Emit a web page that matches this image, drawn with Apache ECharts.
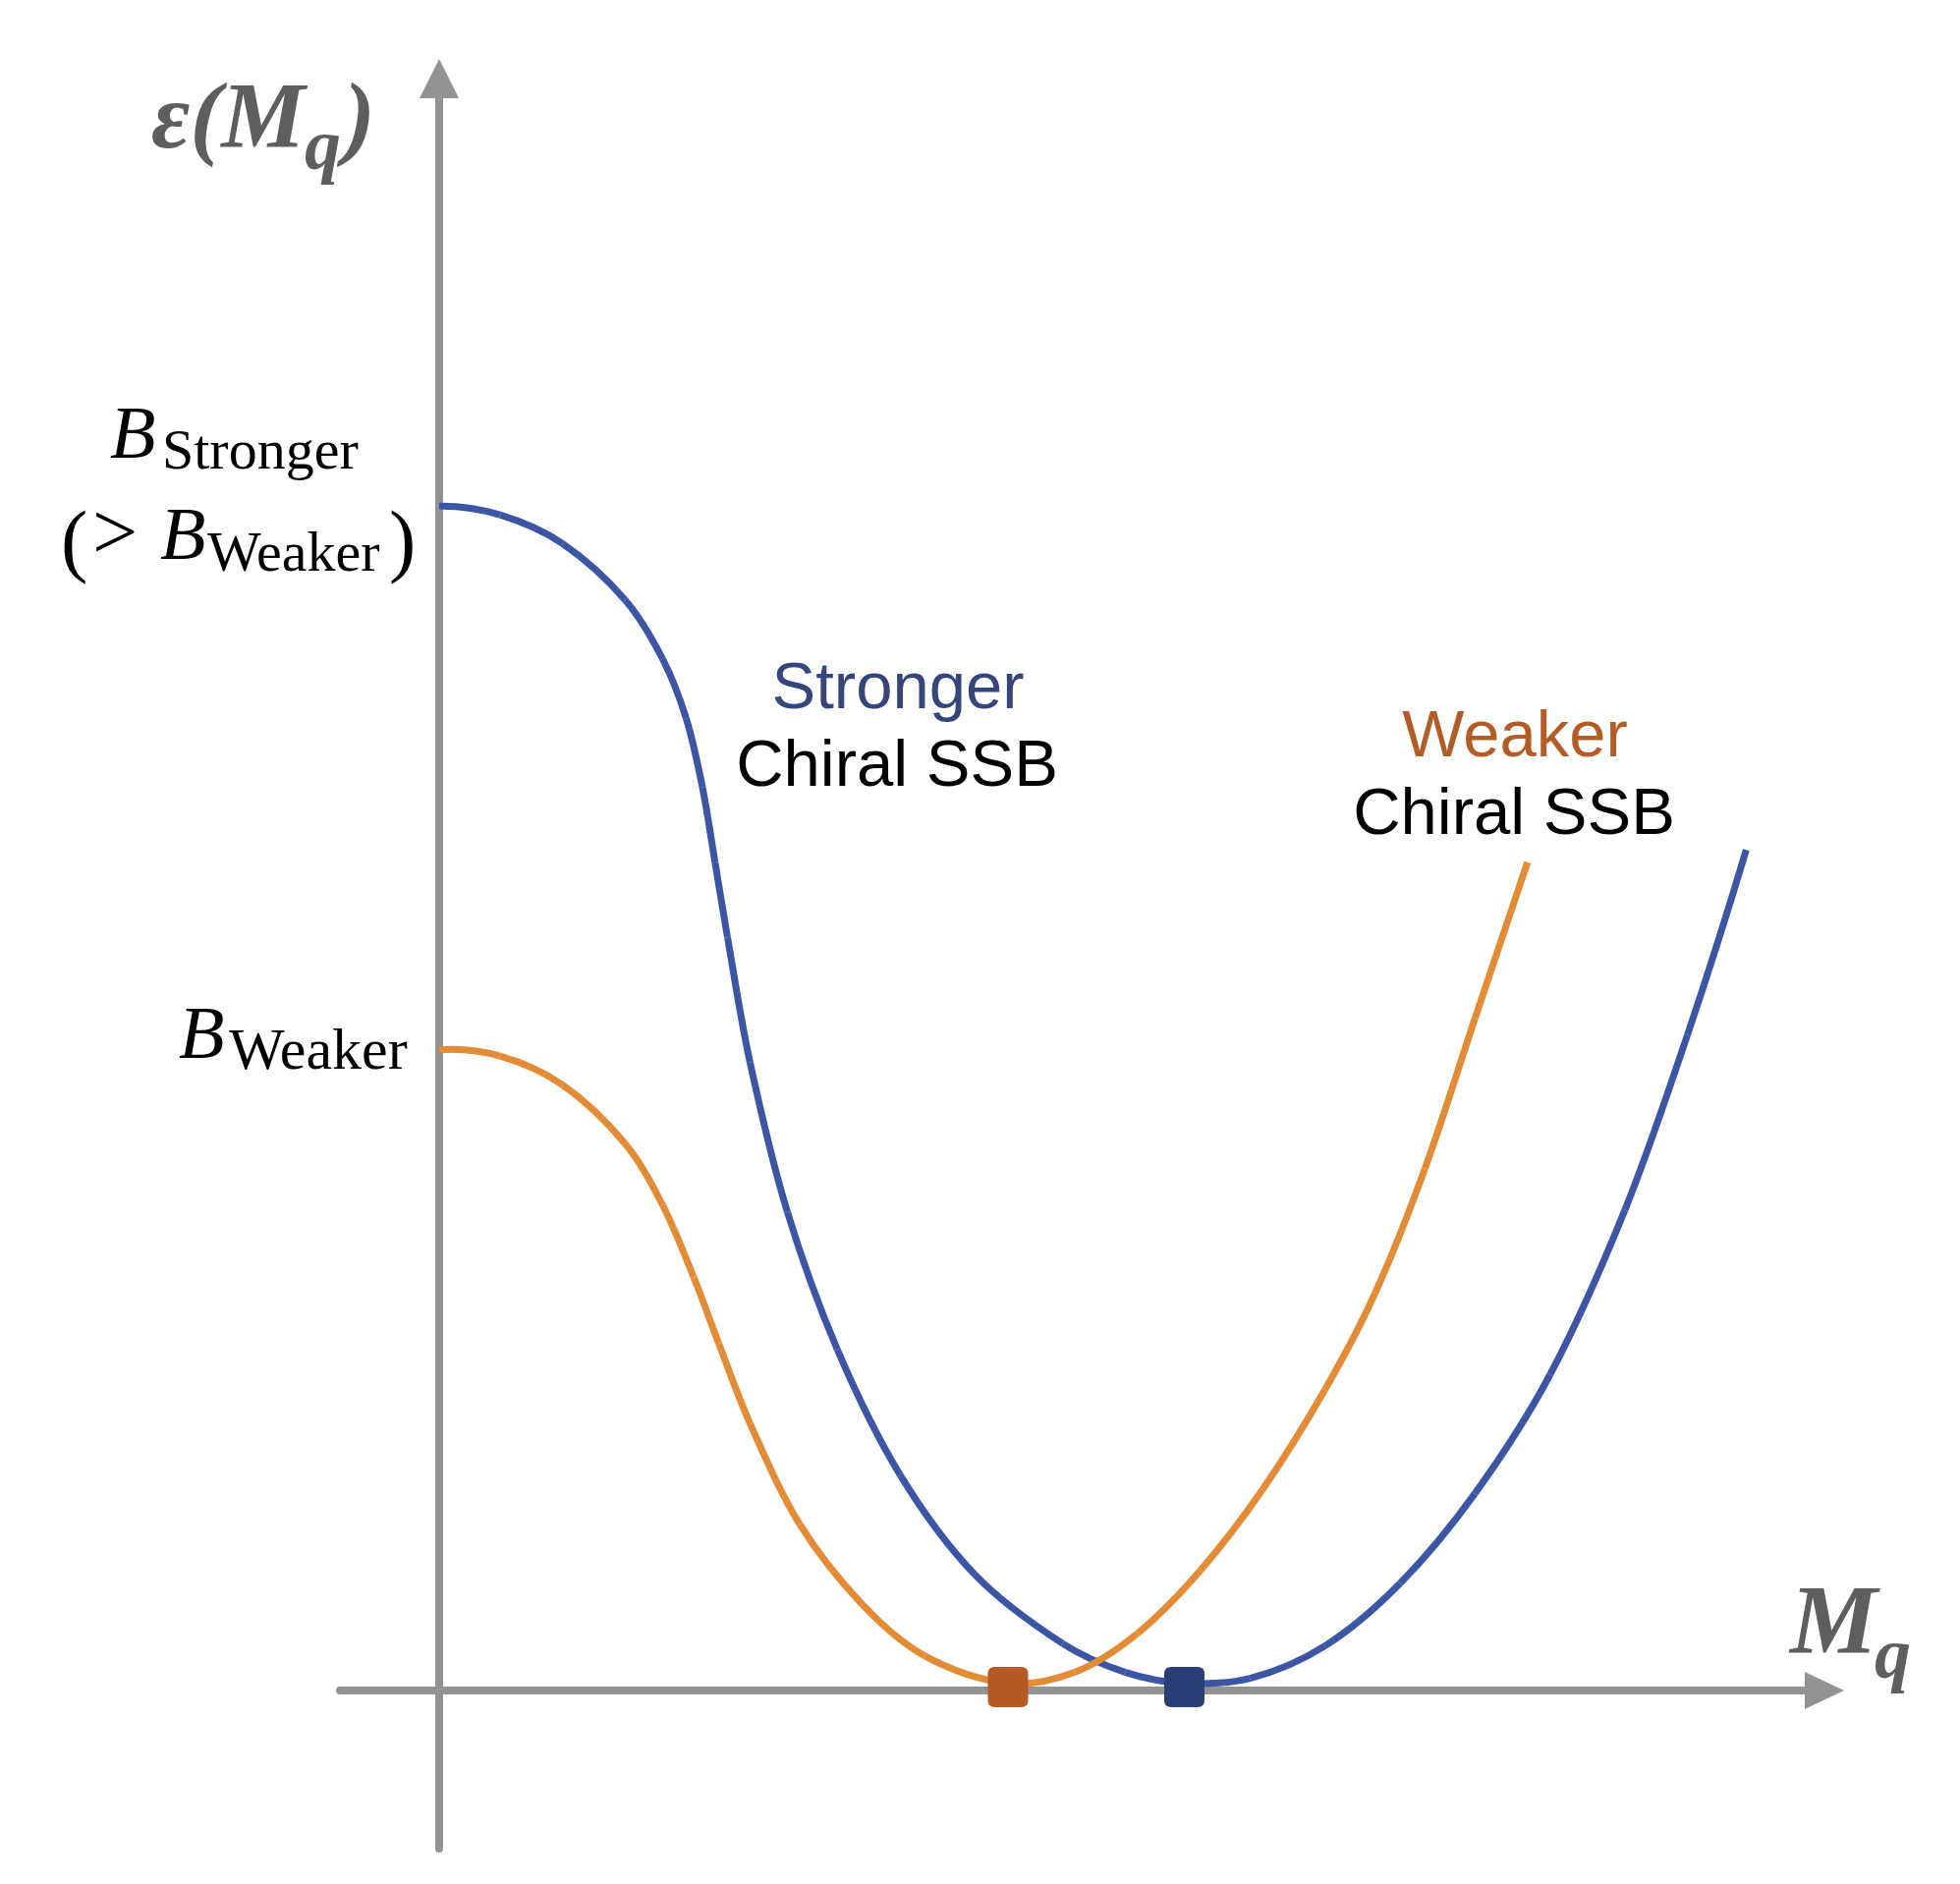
<!DOCTYPE html>
<html><head><meta charset="utf-8">
<script src="https://cdn.jsdelivr.net/npm/echarts/dist/echarts.min.js"></script>
<style>html,body{margin:0;padding:0;background:#fff}#c{width:1995px;height:1918px}</style>
</head><body><div id="c"></div>
<script>
// Energy curves ε(M_q) vs quark mass M_q (arbitrary units, origin at axes crossing)
const strongerX = [0, 0.619, 1.255, 1.892, 2.273, 2.515, 2.680, 2.808, 2.935, 3.164, 3.545, 4.054, 4.691, 5.454, 6.345, 6.981, 7.579, 8.253, 9.016, 9.780, 10.543, 11.307, 12.070, 12.706, 13.304];
const strongerY = [12.057, 11.968, 11.676, 11.103, 10.505, 9.894, 9.195, 8.431, 7.668, 6.395, 4.869, 3.469, 2.197, 1.179, 0.479, 0.187, 0.075, 0.123, 0.454, 1.090, 2.006, 3.215, 4.894, 6.675, 8.558];
const weakerX = [0, 0.619, 1.255, 1.892, 2.273, 2.591, 2.846, 3.164, 3.673, 4.309, 4.945, 5.785, 6.472, 7.108, 7.744, 8.380, 9.016, 9.525, 10.034, 10.543, 11.078];
const weakerY = [6.523, 6.459, 6.166, 5.568, 4.945, 4.207, 3.533, 2.719, 1.688, 0.874, 0.352, 0.075, 0.187, 0.581, 1.217, 2.044, 3.062, 4.042, 5.314, 6.841, 8.431];
const minimaWeaker = [5.79, 0.035];
const minimaStronger = [7.585, 0.035];
const xRange = [-1.01, 14.10];
const yRange = [-1.61, 16.41];

const zip = (xs, ys) => xs.map((x, i) => [x, ys[i]]);

const AXIS = '#939393';
const BLUE = '#3c55a5', ORANGE = '#e38c35';
const BLUE_DARK = '#2b3f77', ORANGE_DARK = '#b65a25';
const SERIF = "'Liberation Serif', 'Times New Roman', serif";
const SANS = "'Liberation Sans', Arial, sans-serif";

// Smooth curve drawn segment by segment (chord-length Catmull-Rom as cubic Bezier),
// every point placed through the cartesian axes with api.coord.
function curveSeries(name, xs, ys, color) {
  const n = xs.length;
  return {
    type: 'custom', name: name, coordinateSystem: 'cartesian2d', z: 3, silent: true,
    data: zip(xs, ys), encode: {x: 0, y: 1},
    renderItem: function (params, api) {
      const i = params.dataIndex;
      if (i >= n - 1) return null;
      const P = k => { k = Math.max(0, Math.min(n - 1, k)); return api.coord([xs[k], ys[k]]); };
      const dist = (a, b) => Math.hypot(b[0] - a[0], b[1] - a[1]);
      const unit = (a, b) => { const d = dist(a, b); return [(b[0] - a[0]) / d, (b[1] - a[1]) / d]; };
      const inner = k => {
        const a = P(k - 1), b = P(k), c = P(k + 1), s = dist(a, b) + dist(b, c);
        return [(c[0] - a[0]) / s, (c[1] - a[1]) / s];
      };
      const reflect = (c, t) => { const d = c[0] * t[0] + c[1] * t[1]; return [2 * d * c[0] - t[0], 2 * d * c[1] - t[1]]; };
      const tangent = k => {
        if (k <= 0) return reflect(unit(P(0), P(1)), inner(1));
        if (k >= n - 1) return reflect(unit(P(n - 2), P(n - 1)), inner(n - 2));
        return inner(k);
      };
      const p1 = P(i), p2 = P(i + 1), L = dist(p1, p2) / 3;
      const t1 = tangent(i), t2 = tangent(i + 1);
      return {
        type: 'bezierCurve',
        shape: {x1: p1[0], y1: p1[1], x2: p2[0], y2: p2[1],
                cpx1: p1[0] + t1[0] * L, cpy1: p1[1] + t1[1] * L,
                cpx2: p2[0] - t2[0] * L, cpy2: p2[1] - t2[1] * L},
        style: {stroke: color, lineWidth: 7, fill: 'none', lineCap: 'butt'}
      };
    }
  };
}

function txt(s, x, baseline, size, fontStyle, family, color, align) {
  const k = family === SANS ? 0.2525 : 0.2275;
  return {
    type: 'text', x: x, y: baseline - k * size, silent: true, z: 100,
    style: {
      text: s, font: fontStyle + ' ' + size + 'px ' + family, fill: color,
      textAlign: align || 'left', textVerticalAlign: 'middle'
    }
  };
}
const GRAY_T = '#5e5e5e';
const roundSq = 'path://M7,0 H34 Q41,0 41,7 V34 Q41,41 34,41 H7 Q0,41 0,34 V7 Q0,0 7,0 Z';

const chart = echarts.init(document.getElementById('c'), null, {renderer: 'canvas'});
chart.setOption({
  animation: false,
  backgroundColor: '#ffffff',
  grid: {left: 346, right: 138, top: 80, bottom: 36, outerBoundsMode: 'none', containLabel: false},
  xAxis: {
    type: 'value', min: xRange[0], max: xRange[1],
    axisLine: {onZero: true, symbol: ['none', 'triangle'], symbolSize: [38, 40], lineStyle: {color: AXIS, width: 8}},
    axisTick: {show: false}, axisLabel: {show: false}, splitLine: {show: false}
  },
  yAxis: {
    type: 'value', min: yRange[0], max: yRange[1],
    axisLine: {onZero: true, symbol: ['none', 'triangle'], symbolSize: [40, 40], lineStyle: {color: AXIS, width: 8}},
    axisTick: {show: false}, axisLabel: {show: false}, splitLine: {show: false}
  },
  series: [
    curveSeries('Stronger', strongerX, strongerY, BLUE),
    curveSeries('Weaker', weakerX, weakerY, ORANGE),
    {type: 'scatter', data: [minimaWeaker], symbol: roundSq, symbolSize: 41,
     itemStyle: {color: ORANGE_DARK, opacity: 1}, z: 5},
    {type: 'scatter', data: [minimaStronger], symbol: roundSq, symbolSize: 41,
     itemStyle: {color: BLUE_DARK, opacity: 1}, z: 5}
  ],
  graphic: [
    txt('ε(M', 154, 147, 96, 'italic bold', SERIF, GRAY_T),
    txt('q', 310, 170, 74, 'italic bold', SERIF, GRAY_T),
    txt(')', 350, 147, 96, 'italic bold', SERIF, GRAY_T),
    txt('M', 1822, 1679, 100, 'italic bold', SERIF, GRAY_T),
    txt('q', 1908, 1706, 74, 'italic bold', SERIF, GRAY_T),

    txt('B', 112, 463, 76, 'italic', SERIF, '#000'),
    txt('Stronger', 165, 475, 58, 'normal', SERIF, '#000'),
    txt('(', 62, 574, 82, 'normal', SERIF, '#000'),
    txt('>', 94, 566, 82, 'normal', SERIF, '#000'),
    txt('B', 163, 566, 76, 'italic', SERIF, '#000'),
    txt('Weaker', 211, 579, 58, 'normal', SERIF, '#000'),
    txt(')', 396, 574, 82, 'normal', SERIF, '#000'),
    txt('B', 182, 1074, 76, 'italic', SERIF, '#000'),
    txt('Weaker', 233, 1086, 60, 'normal', SERIF, '#000'),

    txt('Stronger', 914, 719, 67, 'normal', SANS, '#34467c', 'center'),
    txt('Chiral SSB', 913, 798, 67, 'normal', SANS, '#000', 'center'),
    txt('Weaker', 1542, 768, 67, 'normal', SANS, '#b35c26', 'center'),
    txt('Chiral SSB', 1541, 847, 67, 'normal', SANS, '#000', 'center')
  ]
});
</script>
</body></html>
